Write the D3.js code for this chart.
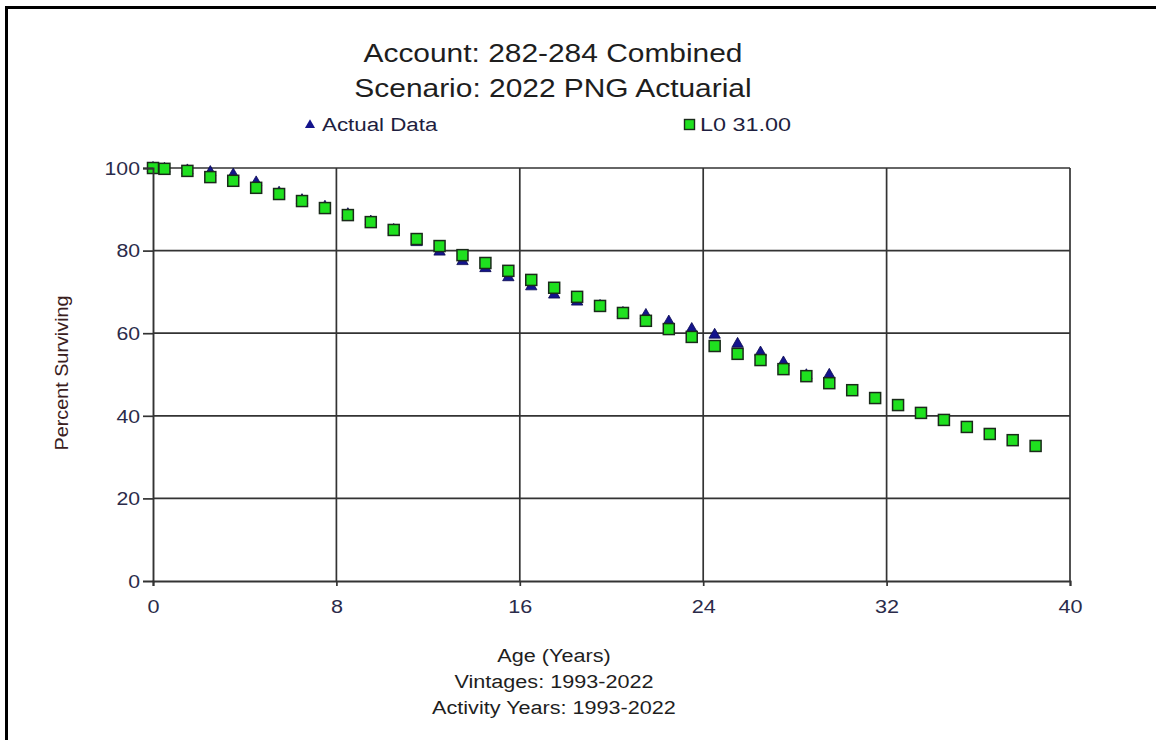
<!DOCTYPE html>
<html><head><meta charset="utf-8">
<script src="https://cdn.jsdelivr.net/npm/d3@7"></script>
<style>body{margin:0;background:#fff}svg{display:block}text{font-family:"Liberation Sans",Arial,sans-serif}</style>
</head><body><div id="chart"></div>
<script>
const titleLines = ["Account: 282-284 Combined", "Scenario: 2022 PNG Actuarial"];
const seriesNames = ["Actual Data", "L0 31.00"];
const actualAges = [0,0.5,1.5,2.5,3.5,4.5,5.5,6.5,7.5,8.5,9.5,10.5,11.5,12.5,13.5,14.5,15.5,16.5,17.5,18.5,19.5,20.5,21.5,22.5,23.5,24.5,25.5,26.5,27.5,28.5,29.5];
const actualValues = [100,99.8,99.4,99.0,98.4,96.5,94.0,92.2,90.6,88.8,87.0,85.0,82.0,79.7,77.4,75.7,73.5,71.3,69.3,67.6,66.6,64.9,64.4,62.8,61.0,59.6,57.4,55.3,52.9,49.8,49.9];
const curveAges = [0,0.5,1.5,2.5,3.5,4.5,5.5,6.5,7.5,8.5,9.5,10.5,11.5,12.5,13.5,14.5,15.5,16.5,17.5,18.5,19.5,20.5,21.5,22.5,23.5,24.5,25.5,26.5,27.5,28.5,29.5,30.5,31.5,32.5,33.5,34.5,35.5,36.5,37.5,38.5];
const curveValues = [100,99.8,99.3,97.8,96.9,95.2,93.7,92.0,90.3,88.6,86.9,85.0,82.8,81.1,78.9,77.0,75.1,72.9,71.0,68.8,66.6,64.9,63.0,61.0,59.1,56.9,55.0,53.5,51.3,49.6,47.9,46.2,44.3,42.6,40.7,39.0,37.3,35.6,34.1,32.7];
const xTicks = [0,8,16,24,32,40];
const yTicks = [0,20,40,60,80,100];
const xLabelLines = ["Age (Years)", "Vintages: 1993-2022", "Activity Years: 1993-2022"];
const yLabel = "Percent Surviving";

const W = 1156, H = 740;
const svg = d3.select("#chart").append("svg").attr("width", W).attr("height", H);

function stretch(sel, f) {
  sel.each(function () {
    const l = this.getComputedTextLength();
    d3.select(this).attr("textLength", l * f).attr("lengthAdjust", "spacingAndGlyphs");
  });
}

// outer frame (top and left visible)
svg.append("line").attr("x1",6).attr("x2",W).attr("y1",7.5).attr("y2",7.5).attr("stroke","#000").attr("stroke-width",3);
svg.append("line").attr("x1",6.5).attr("x2",6.5).attr("y1",6).attr("y2",H).attr("stroke","#000").attr("stroke-width",3);

const x = d3.scaleLinear().domain([0,40]).range([153,1070]);
const y = d3.scaleLinear().domain([0,100]).range([581,168]);

const g = svg.append("g");
const gridColor = "#333";
g.selectAll(".vg").data(xTicks.filter(d=>d>0)).enter().append("line")
  .attr("x1",d=>x(d)).attr("x2",d=>x(d)).attr("y1",y(100)).attr("y2",y(0))
  .attr("stroke",gridColor).attr("stroke-width",1.7);
g.selectAll(".hg").data(yTicks.filter(d=>d>0)).enter().append("line")
  .attr("x1",x(0)).attr("x2",x(40)).attr("y1",d=>y(d)).attr("y2",d=>y(d))
  .attr("stroke",gridColor).attr("stroke-width",1.7);

// axes
const yAxis = d3.axisLeft(y).tickValues(yTicks).tickSize(10).tickPadding(3);
const xAxis = d3.axisBottom(x).tickValues(xTicks).tickSize(5).tickPadding(14);
const ya = svg.append("g").attr("transform",`translate(${x(0)},0)`).call(yAxis);
const xa = svg.append("g").attr("transform",`translate(0,${y(0)})`).call(xAxis);
[ya,xa].forEach(a=>{
  a.select(".domain").attr("stroke","#333").attr("stroke-width",1.9);
  a.selectAll(".tick line").attr("stroke","#333").attr("stroke-width",1.7);
  a.selectAll(".tick text").attr("font-size",18).attr("fill","#2b2b4a")
   .style("font-family",'"Liberation Sans",Arial,sans-serif');
});
ya.selectAll(".tick text").attr("dy","0.35em");
xa.selectAll(".tick text").attr("dy","0.71em");
ya.selectAll(".tick").filter(d=>d===0).select("line").remove();
stretch(ya.selectAll(".tick text"), 1.18);
stretch(xa.selectAll(".tick text"), 1.2);

// series
const triColor = "#14148c";
const tri = d3.symbol().type(d3.symbolTriangle).size(56);
g.selectAll(".tri").data(actualAges).enter().append("path")
  .attr("d",tri).attr("transform",(d,i)=>`translate(${x(d)},${y(actualValues[i])})`)
  .attr("fill",triColor).attr("stroke","#0a0a50").attr("stroke-width",0.8);
const sq = 11;
g.selectAll(".sq").data(curveAges).enter().append("rect")
  .attr("x",d=>x(d)-sq/2).attr("y",(d,i)=>y(curveValues[i])-sq/2)
  .attr("width",sq).attr("height",sq)
  .attr("fill","#1fe01f").attr("stroke","#1a2a1a").attr("stroke-width",1.5);

// titles
const tt = svg.selectAll(".title").data(titleLines).enter().append("text")
  .attr("x",553).attr("y",(d,i)=>62+i*35).attr("text-anchor","middle")
  .attr("font-size",26).attr("fill","#1e1e1e").text(d=>d);
stretch(tt, 1.15);

// legend
svg.append("path").attr("d",d3.symbol().type(d3.symbolTriangle).size(44)).attr("transform","translate(310,125)").attr("fill",triColor);
const l1 = svg.append("text").attr("x",322).attr("y",131).attr("font-size",18).attr("fill","#1e1e40").text(seriesNames[0]);
svg.append("rect").attr("x",684.5).attr("y",119.5).attr("width",10).attr("height",10).attr("fill","#1fe01f").attr("stroke","#1a2a1a").attr("stroke-width",1.4);
const l2 = svg.append("text").attr("x",700).attr("y",131).attr("font-size",18).attr("fill","#1e1e40").text(seriesNames[1]);
stretch(l1, 1.24);
stretch(l2, 1.3);

// axis titles
const yl = svg.append("text").attr("transform","translate(68,373) rotate(-90)").attr("text-anchor","middle")
  .attr("font-size",18).attr("fill","#3a2020").text(yLabel);
stretch(yl, 1.1);
const xl = svg.selectAll(".xl").data(xLabelLines).enter().append("text")
  .attr("x",554).attr("y",(d,i)=>662+i*26).attr("text-anchor","middle")
  .attr("font-size",18).attr("fill","#1e1e1e").text(d=>d);
stretch(xl, 1.2);
</script></body></html>
